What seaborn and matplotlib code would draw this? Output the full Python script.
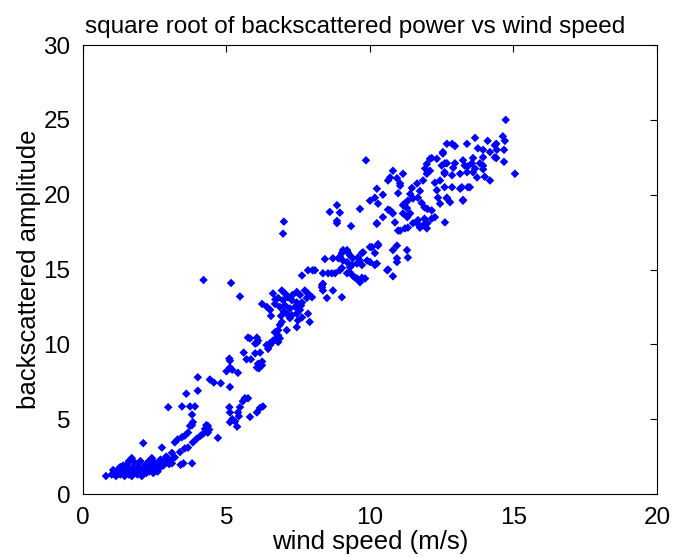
import matplotlib
matplotlib.use("Agg")
import matplotlib.pyplot as plt
import seaborn as sns
import pandas as pd

# (wind speed m/s, backscattered amplitude) pairs, grouped by wind regime
calm = [
    (0.8, 1.2), (1.0, 1.3), (1.1, 1.5), (1.15, 1.2), (1.2, 1.4), (1.25, 1.7), (1.3, 1.3), (1.35, 1.5),
    (1.4, 1.9), (1.45, 1.2), (1.5, 1.6), (1.5, 1.4), (1.55, 2.0), (1.6, 1.3), (1.6, 1.7), (1.65, 1.5),
    (1.7, 2.4), (1.7, 1.2), (1.75, 1.8), (1.8, 1.4), (1.8, 2.1), (1.85, 1.6), (1.9, 1.3), (1.9, 1.9),
    (1.95, 1.7), (2.0, 1.5), (2.0, 2.2), (2.05, 1.2), (2.1, 1.8), (2.1, 3.4), (2.15, 1.6), (2.2, 2.0),
    (2.2, 1.4), (2.25, 1.8), (2.3, 1.5), (2.3, 2.2), (2.35, 1.7), (2.4, 1.9), (2.45, 1.4), (2.5, 2.1),
    (2.5, 1.6), (2.55, 1.8), (2.6, 2.0), (2.65, 1.7), (2.7, 2.3), (2.75, 3.1), (2.8, 1.9), (2.85, 2.1),
    (2.9, 2.5), (3.0, 2.0), (3.0, 2.3), (1.3, 1.8), (1.6, 2.2), (2.4, 2.4), (2.6, 1.5), (1.05, 1.6),
    (1.4, 1.4),
]

light = [
    (2.97, 5.8), (3.45, 5.85), (3.73, 5.85), (3.9, 5.85), (3.8, 5.3), (3.83, 4.8), (4.3, 4.6), (4.35, 4.1),
    (4.2, 4.05), (4.1, 3.9), (3.66, 4.1), (3.55, 3.9), (3.45, 3.8), (3.3, 3.65), (3.2, 3.45), (3.97, 3.7),
    (3.83, 3.45), (3.66, 3.1), (3.55, 3.05), (3.38, 2.8), (3.8, 2.05), (3.5, 2.05), (3.4, 1.95), (3.1, 2.75),
    (3.2, 2.45), (3.03, 2.25), (2.93, 2.4), (3.1, 2.05), (4.25, 4.35), (4.35, 4.55), (4.4, 4.3), (4.7, 3.75),
    (3.8, 4.6), (3.73, 4.55),
]

moderate = [
    (4.0, 7.8), (4.0, 6.9), (3.6, 6.7), (4.42, 7.65), (4.56, 7.45), (4.8, 7.4), (5.1, 9.05), (5.12, 8.45),
    (5.0, 8.2), (5.2, 8.3), (5.4, 8.1), (5.6, 9.45), (5.7, 9.0), (5.85, 9.0), (6.0, 9.4), (6.1, 8.7),
    (6.06, 10.1), (5.1, 5.8), (5.12, 5.45), (5.47, 5.8), (5.4, 5.45), (5.43, 5.2), (5.2, 5.0), (5.3, 4.85),
    (5.12, 4.8), (5.37, 4.5), (5.64, 6.4), (5.75, 6.4), (5.57, 6.2), (6.06, 5.45), (6.17, 5.75), (5.75, 10.45),
    (6.06, 10.45), (6.0, 10.05), (6.17, 9.45), (6.24, 8.85), (6.24, 8.6), (6.06, 8.45), (6.13, 8.4), (6.4, 9.95),
    (6.5, 10.05), (6.6, 10.15), (6.76, 10.4), (6.8, 10.6), (6.7, 10.8), (5.12, 7.15), (5.82, 5.15), (6.27, 5.85),
    (5.82, 10.4), (6.1, 10.25), (5.12, 8.9), (6.45, 9.7), (6.52, 9.95),
]

isolated = [
    (4.2, 14.3), (5.16, 14.1), (5.47, 13.2), (7.0, 18.2), (6.97, 17.4), (8.85, 18.1), (9.34, 17.9),
    (10.24, 18.05), (9.86, 22.3),
]

fresh = [
    (6.62, 13.4), (6.93, 13.6), (7.04, 13.4), (6.8, 13.1), (6.97, 12.95), (7.14, 13.15), (7.28, 12.95),
    (7.45, 13.5), (7.56, 13.3), (7.73, 13.6), (7.84, 13.4), (7.98, 13.15), (7.45, 12.8), (7.63, 12.8),
    (7.8, 13.1), (6.24, 12.7), (6.41, 12.5), (6.52, 12.3), (6.69, 12.7), (6.86, 12.5), (7.04, 12.6),
    (7.21, 12.4), (7.39, 12.5), (7.56, 12.3), (7.1, 12.05), (7.28, 11.95), (7.45, 12.05), (7.63, 11.8),
    (7.84, 12.05), (7.9, 11.5), (7.49, 11.6), (7.21, 11.75), (6.93, 11.5), (6.86, 11.3), (6.8, 10.95),
    (6.69, 10.8), (7.1, 10.95), (7.45, 11.15), (6.76, 10.45), (6.62, 10.25), (6.8, 10.15), (6.86, 10.4),
    (7.63, 14.6), (7.84, 14.95), (8.08, 14.95), (8.33, 13.95), (8.36, 13.6), (8.5, 13.1), (8.54, 14.75),
    (8.0, 14.95), (8.33, 13.8), (8.71, 13.6), (9.02, 13.15), (6.7, 13.0), (7.0, 12.2), (7.3, 13.3),
    (6.9, 11.9), (7.6, 12.6), (6.55, 11.9),
]

strong = [
    (9.02, 16.1), (9.2, 16.3), (9.3, 15.95), (9.4, 15.75), (9.58, 15.8), (9.72, 16.1), (9.76, 16.15),
    (9.65, 15.6), (9.55, 15.4), (9.37, 15.3), (9.2, 15.5), (9.06, 15.6), (8.9, 15.75), (8.71, 15.75),
    (8.43, 15.7), (8.95, 14.95), (8.78, 14.75), (8.67, 14.75), (8.36, 14.75), (9.3, 14.8), (9.4, 14.6),
    (9.55, 14.4), (9.65, 14.15), (9.83, 14.4), (9.9, 15.6), (10.0, 15.5), (10.17, 16.1), (10.07, 16.5),
    (10.28, 16.6), (10.24, 15.4), (10.6, 14.95), (8.36, 14.05), (8.95, 15.85), (9.06, 16.3), (9.23, 16.15),
    (10.0, 16.5), (9.3, 15.15), (9.02, 15.1), (9.72, 15.3), (10.17, 15.3), (9.2, 14.75), (9.48, 14.45),
    (9.72, 14.45), (10.28, 16.7), (10.94, 16.6), (10.8, 16.3), (10.94, 15.5), (10.63, 15.0), (10.8, 14.55),
    (11.29, 16.3), (10.94, 15.75), (11.32, 15.8),
]

gale = [
    (8.85, 19.3), (8.6, 18.85), (8.95, 18.8), (8.85, 18.25), (9.65, 19.05), (10.24, 20.4), (10.0, 19.6),
    (10.17, 19.8), (10.28, 19.4), (10.45, 20.0), (10.63, 19.0), (10.77, 18.8), (10.45, 18.5), (10.24, 18.1),
    (10.8, 21.6), (10.7, 21.15), (10.94, 21.1), (11.15, 21.4), (11.05, 20.6), (10.98, 20.1), (10.87, 18.15),
    (10.98, 17.6), (11.22, 17.75), (11.2, 19.4), (11.15, 18.75), (11.3, 18.5), (11.05, 20.75), (10.7, 18.95),
    (10.8, 18.75), (11.05, 17.6), (11.32, 17.8), (11.5, 18.1), (11.67, 18.3), (11.9, 18.4), (12.15, 18.4),
    (12.26, 18.5), (12.0, 18.1), (11.74, 17.8), (11.98, 17.75), (11.4, 18.75), (11.29, 19.1), (11.15, 19.3),
    (11.32, 19.6), (11.5, 19.75), (11.4, 20.05), (11.46, 20.45), (11.64, 20.75), (11.74, 20.25),
    (11.67, 19.8), (11.8, 19.45), (11.9, 19.15), (12.0, 19.05), (12.15, 18.95), (11.85, 20.95),
    (11.98, 21.4), (12.09, 21.6), (11.98, 22.05), (12.15, 22.45), (12.33, 22.4), (12.5, 21.95), (12.6, 21.4),
    (12.44, 20.95), (12.26, 20.8), (12.33, 20.3), (12.37, 19.8), (12.44, 19.4), (12.6, 20.5), (12.68, 19.8),
    (12.54, 22.75), (12.68, 23.4), (10.63, 20.95), (11.64, 18.1), (11.85, 17.95), (12.61, 18.15),
    (12.09, 22.4), (11.92, 21.75),
]

storm = [
    (14.73, 25.0), (14.63, 23.9), (14.7, 23.6), (14.67, 23.0), (14.67, 22.2), (14.4, 22.45), (14.35, 23.3),
    (14.1, 23.6), (14.18, 22.85), (13.94, 23.0), (13.76, 23.1), (13.66, 23.8), (13.38, 23.4), (12.86, 23.4),
    (12.96, 23.25), (12.54, 22.85), (15.05, 21.4), (14.18, 20.95), (14.0, 21.2), (13.24, 19.6), (13.48, 20.5),
    (13.14, 20.4), (13.83, 22.1), (13.94, 21.95), (13.66, 21.75), (13.41, 21.9), (13.59, 22.45), (13.24, 22.3),
    (12.96, 22.1), (12.61, 22.1), (14.4, 23.4), (14.42, 23.0), (14.35, 22.5), (13.55, 22.1), (13.94, 22.5),
    (13.94, 21.7), (13.3, 21.95), (12.9, 21.8), (12.68, 22.1), (12.6, 21.5), (12.86, 21.3), (13.14, 21.4),
    (13.38, 21.5), (13.59, 21.5), (13.73, 21.15), (12.86, 20.5), (13.2, 20.5), (13.41, 20.5), (12.68, 19.75),
    (12.79, 19.5), (13.24, 19.65),
]

x_ticks = [0, 5, 10, 15, 20]
y_ticks = [0, 5, 10, 15, 20, 25, 30]

samples = calm + light + moderate + isolated + fresh + strong + gale + storm
df = pd.DataFrame(samples, columns=["wind_speed", "amplitude"])

sns.set_style("white")
plt.rcParams["font.family"] = ["Liberation Sans", "DejaVu Sans"]
plt.rcParams["text.color"] = "black"
plt.rcParams["axes.labelcolor"] = "black"

fig = plt.figure(figsize=(6.73, 5.57), dpi=100)
ax = fig.add_axes([0.1233, 0.1131, 0.8529, 0.806])

sns.scatterplot(data=df, x="wind_speed", y="amplitude", ax=ax,
                marker="D", s=19, color="#0000ff", edgecolor="none", linewidth=0)

ax.set_xlim(0, 20)
ax.set_ylim(0, 30)
ax.set_xticks(x_ticks)
ax.set_yticks(y_ticks)
ax.tick_params(direction="in", length=5, width=0.8, top=True, right=True,
               labelsize=17.5, colors="black", pad=9)
for sp in ax.spines.values():
    sp.set_visible(True)
    sp.set_color("black")
    sp.set_linewidth(0.8)

ax.set_title("square root of backscattered power vs wind speed", fontsize=17.5,
             color="black", pad=9, x=0.474)
ax.set_xlabel("wind speed (m/s)", fontsize=18.5, labelpad=1)
ax.set_ylabel("backscattered amplitude", fontsize=18.5, labelpad=2)

fig.savefig("out.png", dpi=100)
